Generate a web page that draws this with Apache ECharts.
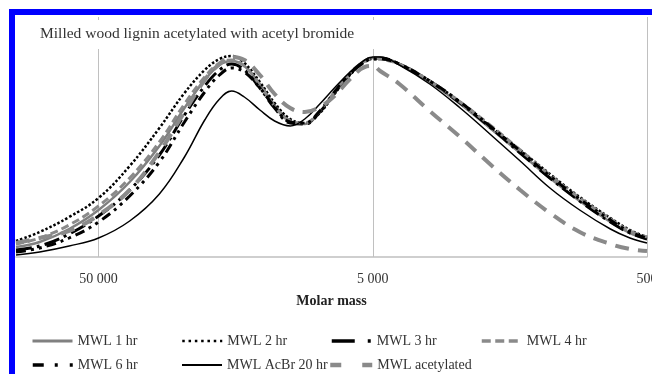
<!DOCTYPE html>
<html>
<head>
<meta charset="utf-8">
<script src="https://cdn.jsdelivr.net/npm/echarts@6/dist/echarts.min.js"></script>
<style>
  html, body { margin: 0; padding: 0; background: #fff; }
  #main { width: 652px; height: 374px; }
</style>
</head>
<body>
<div id="main"></div>
<script>
const molarMass = [100000, 82000, 64000, 50000, 38500, 30000, 24300, 20500, 18100, 16350, 14700, 12900, 11400, 10000, 8850, 7800, 6900, 6050, 5350, 5000, 4700, 4000, 3100, 2400, 1870, 1450, 1130, 880, 680, 577, 500];

// relative detector response (no y scale shown)
const mwl1hr = [0.05, 0.075, 0.14, 0.235, 0.375, 0.555, 0.745, 0.885, 0.96, 0.98, 0.955, 0.865, 0.76, 0.68, 0.665, 0.725, 0.82, 0.915, 0.98, 0.995, 0.995, 0.965, 0.875, 0.765, 0.645, 0.52, 0.395, 0.28, 0.175, 0.12, 0.09];
const mwl2hr = [0.08, 0.125, 0.2, 0.295, 0.455, 0.645, 0.82, 0.935, 0.99, 1.005, 0.97, 0.875, 0.77, 0.69, 0.67, 0.72, 0.815, 0.91, 0.975, 0.99, 0.99, 0.965, 0.88, 0.775, 0.655, 0.535, 0.415, 0.3, 0.195, 0.135, 0.1];
const mwl3hr = [0.035, 0.055, 0.115, 0.205, 0.335, 0.51, 0.71, 0.855, 0.935, 0.965, 0.935, 0.845, 0.745, 0.67, 0.665, 0.725, 0.82, 0.915, 0.98, 0.995, 0.995, 0.965, 0.88, 0.77, 0.65, 0.52, 0.395, 0.28, 0.175, 0.12, 0.09];
const mwl4hr = [0.065, 0.095, 0.16, 0.255, 0.395, 0.575, 0.765, 0.9, 0.97, 0.985, 0.955, 0.86, 0.755, 0.68, 0.67, 0.73, 0.825, 0.92, 0.98, 0.995, 0.99, 0.965, 0.88, 0.775, 0.66, 0.535, 0.41, 0.295, 0.19, 0.13, 0.1];
const mwl6hr = [0.025, 0.045, 0.095, 0.175, 0.305, 0.475, 0.675, 0.825, 0.91, 0.945, 0.925, 0.845, 0.75, 0.675, 0.67, 0.73, 0.825, 0.915, 0.975, 0.99, 0.99, 0.965, 0.88, 0.775, 0.655, 0.53, 0.405, 0.29, 0.185, 0.125, 0.095];
const mwlAcBr20hr = [0.01, 0.025, 0.055, 0.095, 0.18, 0.315, 0.5, 0.685, 0.79, 0.83, 0.8, 0.735, 0.68, 0.655, 0.69, 0.765, 0.845, 0.925, 0.985, 1.0, 1.0, 0.96, 0.865, 0.745, 0.615, 0.48, 0.345, 0.235, 0.14, 0.095, 0.07];
const mwlAcetylated = [0.07, 0.095, 0.13, 0.21, 0.335, 0.525, 0.725, 0.885, 0.965, 1.0, 0.985, 0.91, 0.815, 0.745, 0.725, 0.75, 0.805, 0.89, 0.95, 0.955, 0.93, 0.865, 0.73, 0.6, 0.465, 0.335, 0.22, 0.125, 0.065, 0.04, 0.03];

const tickMasses = [500, 5000, 50000];
const tickLabels = ['500', '5 000', '50 000'];
const massLow = 500;
const massHigh = 100000;

const FONT = 'Liberation Serif';
const GRAY = '#8a8a8a';

// x is plotted as decades above 500 so the ticks land on 500 / 5 000 / 50 000
function decades(m) { return Math.log10(m / massLow); }
function pairs(vals) { return vals.map((v, i) => [decades(molarMass[i]), v]); }

const seriesDefs = [
    { name: 'MWL 1 hr', data: mwl1hr, color: '#808080', width: 2.5, type: 'solid' },
    { name: 'MWL 2 hr', data: mwl2hr, color: '#000', width: 2.5, type: [2.5, 2] },
    { name: 'MWL 3 hr', data: mwl3hr, color: '#000', width: 3, type: [16, 5, 3, 5] },
    { name: 'MWL 4 hr', data: mwl4hr, color: GRAY, width: 3, type: [8, 4] },
    { name: 'MWL 6 hr', data: mwl6hr, color: '#000', width: 3, type: [10, 5, 3, 5, 3, 5] },
    { name: 'MWL AcBr 20 hr', data: mwlAcBr20hr, color: '#000', width: 1.5, type: 'solid' },
    { name: 'MWL acetylated', data: mwlAcetylated, color: GRAY, width: 4, type: [14, 9] }
];

// one legend box per entry, placed like the original two-row legend;
// the legend icons use Excel's stretched dash patterns
const legendSpots = [
    { name: 'MWL 1 hr', left: 31, top: 334, w: 40, lw: 3, dash: 'solid' },
    { name: 'MWL 2 hr', left: 181, top: 334, w: 40, lw: 2.5, dash: [2.5, 3.8] },
    { name: 'MWL 3 hr', left: 330, top: 334, w: 40, lw: 3.5, dash: [23, 13, 3, 40] },
    { name: 'MWL 4 hr', left: 480, top: 334, w: 40, lw: 3.5, dash: [9, 4.5] },
    { name: 'MWL 6 hr', left: 31, top: 358, w: 40, lw: 3.5, dash: [11, 11, 3, 12, 3, 40] },
    { name: 'MWL AcBr 20 hr', left: 181, top: 358, w: 40, lw: 2, dash: 'solid' },
    { name: 'MWL acetylated', left: 328, top: 358, w: 42, lw: 4.5, dash: [11, 21, 10, 40] }
];

let chart = echarts.init(document.getElementById('main'));

let option = {
    animation: false,
    backgroundColor: '#fff',
    title: {
        text: 'Milled wood lignin acetylated with acetyl bromide',
        left: 28,
        top: 20,
        padding: [6, 26, 7, 12],
        backgroundColor: '#fff',
        textStyle: { fontFamily: FONT, fontSize: 15.5, fontWeight: 'normal', color: '#333' }
    },
    grid: { left: 16, right: 5, top: 17, bottom: 117, containLabel: false, outerBoundsMode: 'none' },
    legend: legendSpots.map(function (s) {
        return {
            data: [{ name: s.name, lineStyle: { width: s.lw, type: s.dash, cap: 'butt' } }],
            left: s.left,
            top: s.top,
            padding: 0,
            itemWidth: s.w,
            itemHeight: 14,
            itemStyle: { opacity: 0 },
            selectedMode: false,
            textStyle: { fontFamily: FONT, fontSize: 14, color: '#333' }
        };
    }),
    xAxis: {
        type: 'value',
        inverse: true,
        min: 0,
        max: decades(massHigh),
        interval: 1,
        name: 'Molar mass',
        nameLocation: 'middle',
        nameGap: 37,
        nameTextStyle: { fontFamily: FONT, fontSize: 14, fontWeight: 'bold', color: '#222' },
        axisLine: { lineStyle: { color: '#c0c0c0', width: 1.5 } },
        axisTick: { show: false },
        axisLabel: {
            margin: 15,
            showMaxLabel: false,
            fontFamily: FONT,
            fontSize: 14,
            color: '#333',
            formatter: function (v) {
                let i = tickMasses.findIndex(m => Math.abs(decades(m) - v) < 1e-6);
                return i < 0 ? '' : tickLabels[i];
            }
        },
        splitLine: { show: true, showMaxLine: false, lineStyle: { color: '#c0c0c0', width: 1 } }
    },
    yAxis: {
        type: 'value',
        min: 0,
        max: 1.2,
        show: false,
        splitLine: { show: false }
    },
    series: seriesDefs.map(function (d) {
        return {
            name: d.name,
            type: 'line',
            smooth: 0.4,
            symbol: 'none',
            data: pairs(d.data),
            itemStyle: { color: d.color },
            lineStyle: { color: d.color, width: d.width, type: d.type, cap: 'butt' }
        };
    }),
    graphic: [
        { type: 'rect', shape: { x: 9, y: 9, width: 643, height: 6 }, style: { fill: '#0000ff' }, z: 100 },
        { type: 'rect', shape: { x: 9, y: 9, width: 6, height: 365 }, style: { fill: '#0000ff' }, z: 100 }
    ]
};

chart.setOption(option, true);
</script>
</body>
</html>
